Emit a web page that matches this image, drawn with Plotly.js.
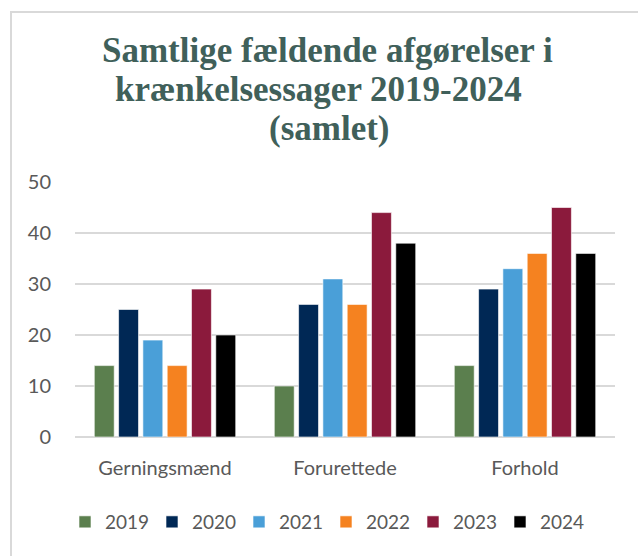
<!DOCTYPE html>
<html>
<head>
<meta charset="utf-8">
<script src="https://cdn.plot.ly/plotly-3.0.1.min.js"></script>
<style>
html,body{margin:0;padding:0;background:#fff;overflow:hidden;}
#wrap{position:relative;width:638px;height:556px;}
#chart{position:absolute;left:0;top:0;width:638px;height:556px;}
#frame{position:absolute;left:10px;top:11px;width:700px;height:600px;border-top:2px solid #d9d9d9;border-left:2px solid #d9d9d9;pointer-events:none;}
</style>
</head>
<body>
<div id="wrap"><div id="chart"></div><div id="frame"></div></div>
<script>
const categories = ["Gerningsmænd", "Forurettede", "Forhold"];
const years = ["2019", "2020", "2021", "2022", "2023", "2024"];
const v2019 = [14, 10, 14];
const v2020 = [25, 26, 29];
const v2021 = [19, 31, 33];
const v2022 = [14, 26, 36];
const v2023 = [29, 44, 45];
const v2024 = [20, 38, 36];
const seriesValues = [v2019, v2020, v2021, v2022, v2023, v2024];
const colors = ["#5b7f4e", "#002855", "#4a9fd8", "#f58220", "#8b1a3c", "#000000"];
const yTicks = [0, 10, 20, 30, 40, 50];
const titleLines = ["Samtlige fældende afgørelser i", "krænkelsessager 2019-2024", "(samlet)"];

const traces = years.map((y, i) => ({
  type: "bar",
  name: y,
  x: categories,
  y: seriesValues[i],
  marker: {color: colors[i], line: {color: "rgba(255,255,255,0.6)", width: 1}},
  hoverinfo: "none"
}));

// plot area: x 75..615 px, y 182..437 px
const PL = 75, PW = 540, PB = 437, PH = 255;
const px = p => (p - PL) / PW;
const py = p => (PB - p) / PH;
const titleCenters = [[327, 50.5], [318, 89.5], [329, 128.5]];

const annotations = titleLines.map((t, i) => ({
  text: t,
  xref: "paper", yref: "paper",
  x: px(titleCenters[i][0]), y: py(titleCenters[i][1]),
  xanchor: "center", yanchor: "middle",
  showarrow: false,
  font: {family: "Liberation Serif", size: 35, color: "#40605a", weight: "bold"}
}));

const layout = {
  width: 638, height: 556,
  margin: {l: 75, r: 23, t: 182, b: 119},
  paper_bgcolor: "#ffffff", plot_bgcolor: "#ffffff",
  barmode: "group",
  bargap: 0.19,
  bargroupgap: 0.18,
  annotations: annotations,
  xaxis: {
    tickfont: {family: "Lato", size: 20, color: "#595959"},
    showgrid: false, zeroline: false, showline: false, ticks: "",
    ticklabelstandoff: 17
  },
  yaxis: {
    range: [0, 50],
    tickvals: yTicks,
    ticktext: yTicks.map(String),
    tickfont: {family: "Lato", size: 20, color: "#595959"},
    showgrid: true, gridcolor: "#d9d9d9", gridwidth: 1.5,
    zeroline: true, zerolinecolor: "#d9d9d9", zerolinewidth: 1.5,
    showline: false, ticks: "", ticklabelstandoff: 23
  },
  legend: {
    orientation: "h", x: px(326), xanchor: "center", y: py(522), yanchor: "middle",
    font: {family: "Lato", size: 19, color: "#595959"},
    entrywidth: 42, entrywidthmode: "pixels", itemclick: false
  },
  showlegend: true
};

Plotly.newPlot("chart", traces, layout, {displayModeBar: false, staticPlot: true});
</script>
</body>
</html>
